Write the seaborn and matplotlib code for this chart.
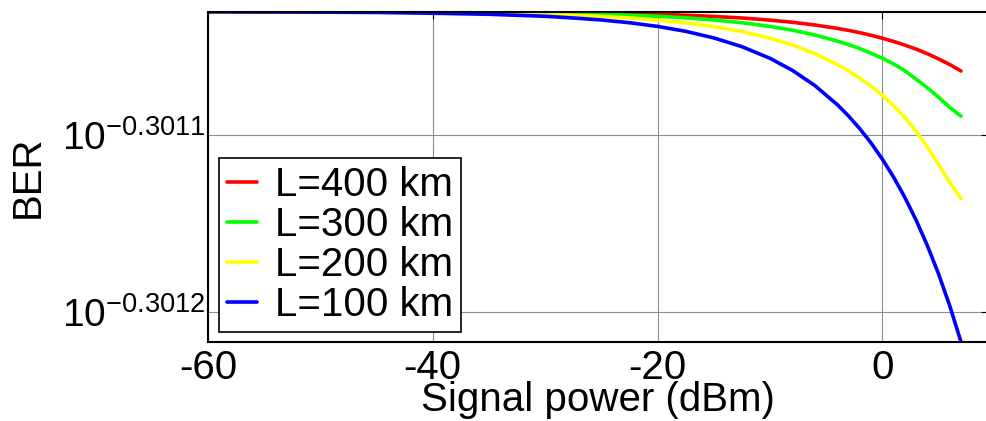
import numpy as np
import pandas as pd
import seaborn as sns
import matplotlib.pyplot as plt
from matplotlib.ticker import FixedLocator, FixedFormatter, NullLocator

# signal power (dBm)
power = [-60, -50, -45, -40, -35, -30, -27.5, -25, -22.5, -20, -17.5, -15, -12.5, -10,
         -8, -6, -4, -3, -2, -1, 0, 1, 2, 3, 4, 5, 6, 7]

# BER
ber_400 = [0.5000000, 0.5000000, 0.4999999, 0.4999998, 0.4999997, 0.4999995, 0.4999993,
           0.4999990, 0.4999987, 0.4999983, 0.4999977, 0.4999969, 0.4999959, 0.4999945,
           0.4999931, 0.4999913, 0.4999891, 0.4999878, 0.4999863, 0.4999846, 0.4999827,
           0.4999806, 0.4999782, 0.4999756, 0.4999726, 0.4999692, 0.4999655, 0.4999613]
ber_300 = [0.5000000, 0.4999999, 0.4999998, 0.4999997, 0.4999995, 0.4999990, 0.4999987,
           0.4999983, 0.4999977, 0.4999970, 0.4999960, 0.4999946, 0.4999928, 0.4999904,
           0.4999879, 0.4999848, 0.4999808, 0.4999785, 0.4999759, 0.4999729, 0.4999696,
           0.4999659, 0.4999615, 0.4999560, 0.4999504, 0.4999442, 0.4999376, 0.4999318]
ber_200 = [0.4999999, 0.4999998, 0.4999997, 0.4999995, 0.4999990, 0.4999983, 0.4999977,
           0.4999969, 0.4999959, 0.4999945, 0.4999927, 0.4999903, 0.4999871, 0.4999827,
           0.4999783, 0.4999726, 0.4999655, 0.4999613, 0.4999566, 0.4999514, 0.4999454,
           0.4999387, 0.4999311, 0.4999220, 0.4999118, 0.4999003, 0.4998886, 0.4998781]
ber_100 = [0.4999999, 0.4999997, 0.4999995, 0.4999990, 0.4999983, 0.4999970, 0.4999959,
           0.4999946, 0.4999928, 0.4999904, 0.4999872, 0.4999829, 0.4999772, 0.4999696,
           0.4999617, 0.4999518, 0.4999393, 0.4999319, 0.4999236, 0.4999143, 0.4999038,
           0.4998921, 0.4998789, 0.4998641, 0.4998475, 0.4998290, 0.4998081, 0.4997846]

labels = ["L=400 km", "L=300 km", "L=200 km", "L=100 km"]
colors = ["#ff0000", "#00ff00", "#ffff00", "#0000ff"]

ytick_exp = [-0.3012, -0.3011]
ytick_labels = [r"$10^{-0.3012}$", r"$10^{-0.3011}$"]
xticks = [-60, -40, -20, 0]

frames = []
for lab, vals in zip(labels, [ber_400, ber_300, ber_200, ber_100]):
    frames.append(pd.DataFrame({"power": power, "BER": vals, "L": lab}))
df = pd.concat(frames, ignore_index=True)

sns.set_style("white")
plt.rcParams["font.family"] = ["Liberation Sans", "DejaVu Sans"]
plt.rcParams["mathtext.default"] = "regular"
plt.rcParams["axes.unicode_minus"] = False
for k in ["text.color", "axes.labelcolor", "xtick.color", "ytick.color"]:
    plt.rcParams[k] = "black"

fig = plt.figure(figsize=(9.87, 4.21), dpi=100)
ax = fig.add_axes([208 / 987, 1 - 341.7 / 421, 1 - 208 / 987 + 0.001, 330 / 421])

sns.lineplot(data=df, x="power", y="BER", hue="L", hue_order=labels, palette=colors,
             estimator=None, sort=False, linewidth=2.6, ax=ax)

ax.set_yscale("log")
ax.set_xlim(-60, 9.4)
ax.set_ylim(10 ** -0.301217, 10 ** -0.30103)

ax.xaxis.set_major_locator(FixedLocator(xticks))
ax.yaxis.set_major_locator(FixedLocator([10 ** e for e in ytick_exp]))
ax.yaxis.set_major_formatter(FixedFormatter(ytick_labels))
ax.yaxis.set_minor_locator(NullLocator())
ax.xaxis.set_minor_locator(NullLocator())

ax.tick_params(axis="both", which="major", direction="in", length=5, width=0.8,
               labelsize=29, top=True, right=True, color="black")
ax.tick_params(axis="y", labelsize=28, pad=2)
ax.tick_params(axis="x", pad=5)
ax.grid(True, color="#8c8c8c", linewidth=0.8)

for s in ax.spines.values():
    s.set_color("black")
    s.set_linewidth(1.5)

ax.set_xlabel("Signal power (dBm)", fontsize=29)
ax.set_ylabel("BER", fontsize=29)
ax.xaxis.set_label_coords(0.5, -0.118)
ax.yaxis.set_label_coords(-0.207, 0.5)

leg = ax.legend(loc="lower left", bbox_to_anchor=(0.014, 0.029), borderaxespad=0,
                fontsize=29, frameon=True, fancybox=False, handlelength=0.75,
                handletextpad=0.45, borderpad=0.2, labelspacing=0.05)
leg.get_frame().set_edgecolor("black")
leg.get_frame().set_linewidth(1.2)
leg.get_frame().set_alpha(1)

fig.savefig("out.png", dpi=100)
